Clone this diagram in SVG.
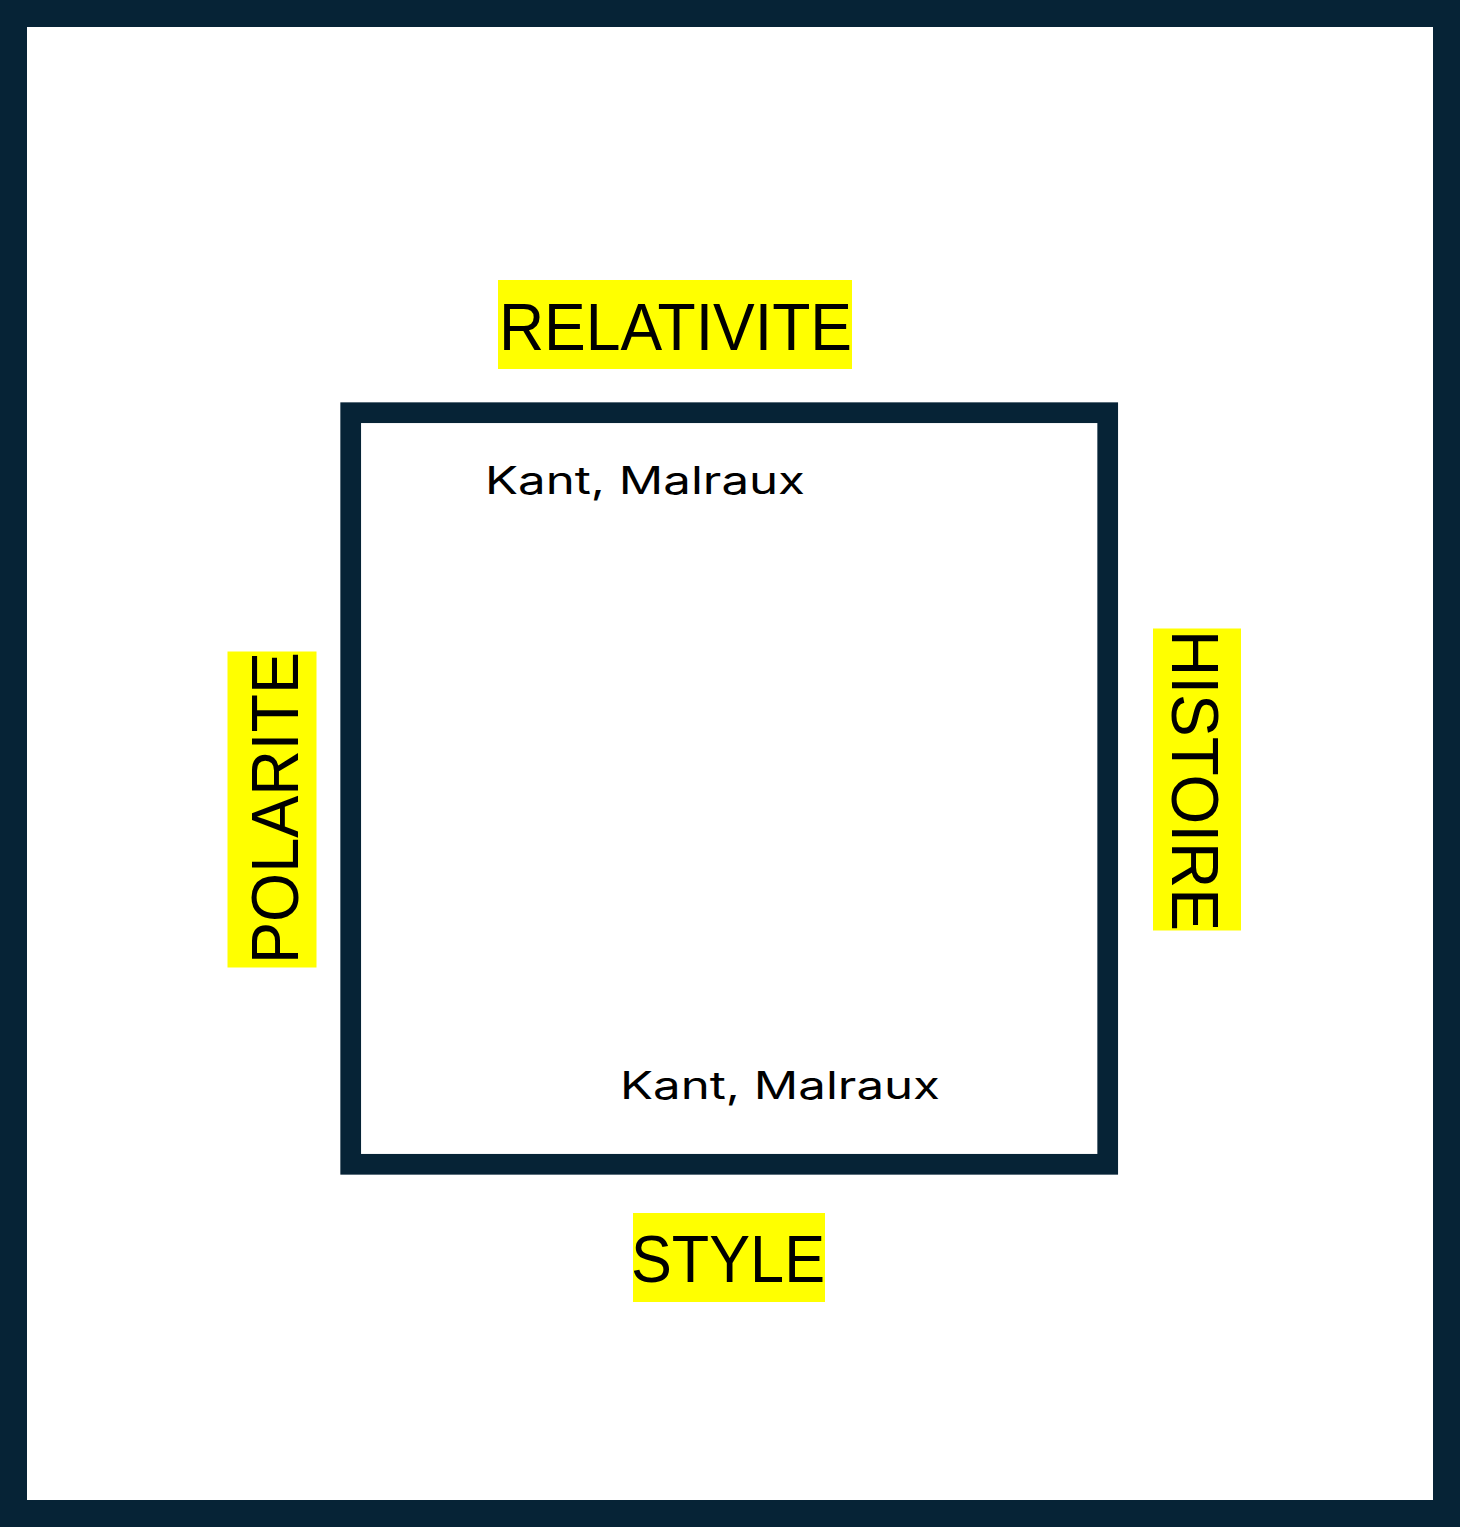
<svg xmlns="http://www.w3.org/2000/svg" width="1460" height="1527" viewBox="0 0 1460 1527">
<style>
.frame{fill:none;stroke:#062336}
.hl{fill:#ffff00}
.lab{font-family:"Liberation Sans",Arial,sans-serif;font-size:67px;fill:#000}
.name{font-family:Inter,"Noto Sans",sans-serif;font-size:38px;fill:#000}
</style>
<rect x="0" y="0" width="1460" height="1527" fill="#ffffff"/>
<g id="outer-frame"><rect class="frame" x="13.5" y="13.5" width="1433" height="1500" stroke-width="27"/></g>
<g id="inner-square"><rect class="frame" x="350.7" y="412.7" width="757" height="751.6" stroke-width="20.7"/></g>
<g id="relativite">
<rect class="hl" x="498" y="280" width="354" height="89"/>
<text class="lab" x="499" y="350" textLength="353" lengthAdjust="spacingAndGlyphs">RELATIVITE</text>
</g>
<g id="style">
<rect class="hl" x="633" y="1213" width="192" height="89"/>
<text class="lab" x="631" y="1282" textLength="194" lengthAdjust="spacingAndGlyphs">STYLE</text>
</g>
<g id="polarite">
<rect class="hl" x="227.5" y="651.5" width="89" height="316"/>
<text class="lab" transform="translate(297.5,964) rotate(-90)" x="0" y="0" textLength="312" lengthAdjust="spacingAndGlyphs">POLARITE</text>
</g>
<g id="histoire">
<rect class="hl" x="1153" y="628.5" width="88" height="302"/>
<text class="lab" transform="translate(1171.7,630) rotate(90)" x="0" y="0" textLength="301" lengthAdjust="spacingAndGlyphs">HISTOIRE</text>
</g>
<g id="kant-top"><text class="name" x="485" y="494" textLength="320" lengthAdjust="spacingAndGlyphs">Kant, Malraux</text></g>
<g id="kant-bottom"><text class="name" x="620" y="1099" textLength="320" lengthAdjust="spacingAndGlyphs">Kant, Malraux</text></g>
<g id="connectors"/>
</svg>
